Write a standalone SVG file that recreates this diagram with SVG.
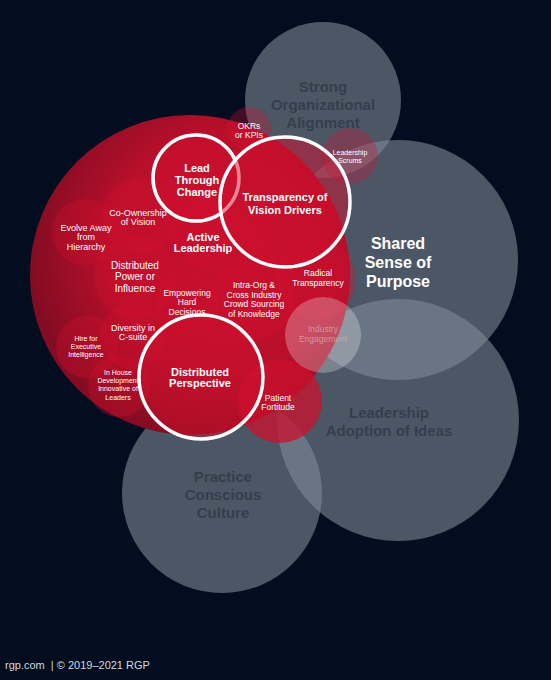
<svg xmlns="http://www.w3.org/2000/svg" width="551" height="680" viewBox="0 0 551 680">
<defs>
<radialGradient id="bigRed" cx="0.62" cy="0.42" r="0.62">
<stop offset="0" stop-color="#c8102e"/>
<stop offset="0.6" stop-color="#b80f2b"/>
<stop offset="1" stop-color="#840c22"/>
</radialGradient>
<style>
.grey{fill:#7f8896;fill-opacity:0.6}
.red{fill:#d2112f;fill-opacity:0.32}
.ring{fill:#d0102e;fill-opacity:0.5;stroke:#ffffff;stroke-width:3.5}
.light{fill:#ffffff;fill-opacity:0.26}
text{font-family:"Liberation Sans",Arial,sans-serif;text-anchor:middle}
.gt{font-size:15px;font-weight:bold;fill:#353e4c}
.wt{font-size:16px;font-weight:bold;fill:#ffffff}
.bt{font-size:11px;font-weight:bold;fill:#ffffff}
.s10{font-size:10px;fill:#ffffff}
.s9{font-size:9px;fill:#ffffff}
.s85{font-size:8.5px;fill:#ffffff}
.s7{font-size:7px;fill:#ffffff}
</style>
</defs>
<rect width="551" height="680" fill="#020d20"/>
<g id="grey-circles">
<g id="strong-alignment"><circle class="grey" cx="323" cy="100" r="78"/></g>
<g id="shared-purpose"><circle class="grey" cx="398" cy="260" r="120"/></g>
<g id="leadership-adoption"><circle class="grey" cx="398" cy="420" r="121"/></g>
<g id="practice-culture"><circle class="grey" cx="222" cy="493" r="100"/></g>
</g>
<g id="big-red"><circle cx="190" cy="275" r="160" fill="url(#bigRed)"/></g>
<g id="okrs"><circle class="red" cx="249" cy="129" r="22"/></g>
<g id="scrums"><circle class="red" cx="350" cy="156" r="28"/></g>
<g id="coownership"><circle class="red" cx="140" cy="216" r="38"/></g>
<g id="evolve"><circle class="red" cx="85" cy="232" r="33"/></g>
<g id="power"><circle class="red" cx="136" cy="277" r="42"/></g>
<g id="active"><circle class="red" cx="205" cy="232" r="36"/></g>
<g id="empowering"><circle class="red" cx="187" cy="302" r="31"/></g>
<g id="intraorg"><circle class="red" cx="253" cy="298" r="42"/></g>
<g id="radical"><circle class="red" cx="316" cy="280" r="40"/></g>
<g id="diversity"><circle class="red" cx="133" cy="336" r="33"/></g>
<g id="hire"><circle class="red" cx="87" cy="347" r="31"/></g>
<g id="inhouse"><circle class="red" cx="119" cy="386" r="31"/></g>
<g id="patient"><circle fill="#cc102e" fill-opacity="0.75" cx="280" cy="401" r="42"/></g>
<g id="industry"><circle class="light" cx="323" cy="335" r="38"/></g>
<g id="lead-change"><circle class="ring" cx="196" cy="178" r="43"/></g>
<g id="transparency"><circle class="ring" cx="285" cy="202" r="65"/></g>
<g id="distributed-perspective"><circle class="ring" cx="201" cy="377" r="62"/></g>
<g id="connectors"/>
<g id="labels">
<text class="gt"><tspan x="323" y="92">Strong</tspan><tspan x="323" y="110">Organizational</tspan><tspan x="323" y="128">Alignment</tspan></text>
<text class="wt"><tspan x="398" y="249">Shared</tspan><tspan x="398" y="268">Sense of</tspan><tspan x="398" y="287">Purpose</tspan></text>
<text class="gt"><tspan x="389" y="418">Leadership</tspan><tspan x="389" y="436">Adoption of Ideas</tspan></text>
<text class="gt"><tspan x="223" y="482">Practice</tspan><tspan x="223" y="500">Conscious</tspan><tspan x="223" y="518">Culture</tspan></text>
<text class="bt"><tspan x="197" y="172">Lead</tspan><tspan x="197" y="184">Through</tspan><tspan x="197" y="196">Change</tspan></text>
<text class="bt"><tspan x="285" y="201">Transparency of</tspan><tspan x="285" y="214">Vision Drivers</tspan></text>
<text class="bt"><tspan x="203" y="241">Active</tspan><tspan x="203" y="252">Leadership</tspan></text>
<text class="bt"><tspan x="200" y="376">Distributed</tspan><tspan x="200" y="387">Perspective</tspan></text>
<text class="s9"><tspan x="138" y="216">Co-Ownership</tspan><tspan x="138" y="225">of Vision</tspan></text>
<text class="s9"><tspan x="86" y="231">Evolve Away</tspan><tspan x="86" y="240">from</tspan><tspan x="86" y="250">Hierarchy</tspan></text>
<text class="s10"><tspan x="135" y="269">Distributed</tspan><tspan x="135" y="280">Power or</tspan><tspan x="135" y="292">Influence</tspan></text>
<text class="s85"><tspan x="187" y="296">Empowering</tspan><tspan x="187" y="305">Hard</tspan><tspan x="187" y="315">Decisions</tspan></text>
<text class="s85"><tspan x="254" y="288">Intra-Org &amp;</tspan><tspan x="254" y="298">Cross Industry</tspan><tspan x="254" y="307">Crowd Sourcing</tspan><tspan x="254" y="317">of Knowledge</tspan></text>
<text class="s85"><tspan x="249" y="129">OKRs</tspan><tspan x="249" y="138">or KPIs</tspan></text>
<text class="s7"><tspan x="350" y="155">Leadership</tspan><tspan x="350" y="163">Scrums</tspan></text>
<text class="s85"><tspan x="318" y="276">Radical</tspan><tspan x="318" y="286">Transparency</tspan></text>
<text class="s85" style="fill:#d9a7b3;fill-opacity:0.8"><tspan x="323" y="332">Industry</tspan><tspan x="323" y="342">Engagement</tspan></text>
<text class="s9"><tspan x="133" y="331">Diversity in</tspan><tspan x="133" y="340">C-suite</tspan></text>
<text class="s7"><tspan x="86" y="341">Hire for</tspan><tspan x="86" y="349">Executive</tspan><tspan x="86" y="357">Intelligence</tspan></text>
<text class="s7"><tspan x="118" y="375">In House</tspan><tspan x="118" y="383">Development</tspan><tspan x="118" y="391">Innovative of</tspan><tspan x="118" y="400">Leaders</tspan></text>
<text class="s85"><tspan x="278" y="401">Patient</tspan><tspan x="278" y="410">Fortitude</tspan></text>
<text x="5" y="669" style="font-size:11px;fill:#d4d8df;text-anchor:start" xml:space="preserve">rgp.com  | © 2019–2021 RGP</text>
</g>
</svg>
